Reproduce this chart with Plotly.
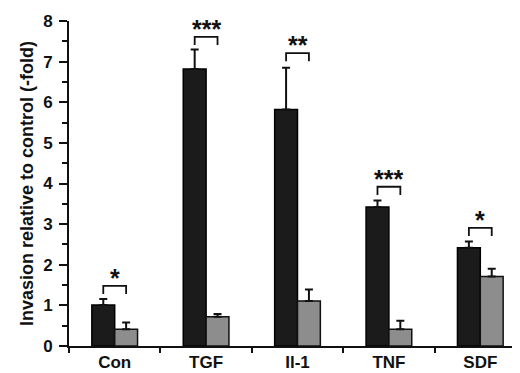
import plotly.graph_objects as go

categories = ["Con", "TGF", "Il-1", "TNF", "SDF"]
black_vals = [1.01, 6.82, 5.82, 3.42, 2.42]
black_err = [0.15, 0.48, 1.03, 0.16, 0.15]
grey_vals = [0.41, 0.72, 1.11, 0.41, 1.71]
grey_err = [0.17, 0.07, 0.28, 0.21, 0.19]
sig_y = [1.48, 7.61, 7.21, 3.92, 2.91]
sig_labels = ["*", "***", "**", "***", "*"]

FONT = "Liberation Sans, Arial, sans-serif"

fig = go.Figure()
fig.add_trace(go.Bar(
    x=categories, y=black_vals, name="control",
    marker=dict(color="#1b1b1b", line=dict(color="#000000", width=1.5)),
    error_y=dict(type="data", array=black_err, arrayminus=[0]*5, symmetric=False,
                 color="#111111", thickness=2, width=4),
))
fig.add_trace(go.Bar(
    x=categories, y=grey_vals, name="treated",
    marker=dict(color="#8d8d8d", line=dict(color="#111111", width=1.5)),
    error_y=dict(type="data", array=grey_err, arrayminus=[0]*5, symmetric=False,
                 color="#111111", thickness=2, width=4),
))

off = 0.125
drop = 0.2
for i, (yb, lab) in enumerate(zip(sig_y, sig_labels)):
    fig.add_shape(type="path", xref="x", yref="y",
                  path=f"M {i-off},{yb-drop} L {i-off},{yb} L {i+off},{yb} L {i+off},{yb-drop}",
                  line=dict(color="#111111", width=1.8))
    fig.add_annotation(x=i, y=yb, xref="x", yref="y", text=f"<b>{lab}</b>",
                       showarrow=False, yanchor="bottom", yshift=-8,
                       font=dict(family=FONT, size=25, color="#111111"))

fig.update_layout(
    width=520, height=373,
    margin=dict(l=61, r=2, t=13, b=35),
    paper_bgcolor="white", plot_bgcolor="white",
    barmode="group", bargap=0.5, bargroupgap=0,
    showlegend=False,
    font=dict(family=FONT, color="#111111"),
)
fig.update_xaxes(
    type="category", range=[-0.5, 4.5], automargin=False,
    showline=True, linecolor="#111111", linewidth=2,
    ticks="outside", tickson="boundaries", ticklen=5, tickwidth=2, tickcolor="#111111",
    tickfont=dict(family=FONT, size=17, color="#111111"),
    ticklabelstandoff=0,
    showgrid=False, zeroline=False,
    tickprefix="<b>", ticksuffix="</b>",
)
fig.update_yaxes(
    range=[0, 8], dtick=1, automargin=False,
    showline=True, linecolor="#111111", linewidth=2,
    ticks="outside", ticklen=8, tickwidth=2, tickcolor="#111111",
    minor=dict(dtick=0.5, ticks="outside", ticklen=5, tickwidth=2, tickcolor="#111111"),
    tickfont=dict(family=FONT, size=17, color="#111111"),
    ticklabelstandoff=3,
    tickprefix="<b>", ticksuffix="</b>",
    showgrid=False, zeroline=False,
    title=dict(text="<b>Invasion relative to control (-fold)</b>",
               font=dict(family=FONT, size=18, color="#111111"), standoff=5),
)

fig.write_html("out.html")
